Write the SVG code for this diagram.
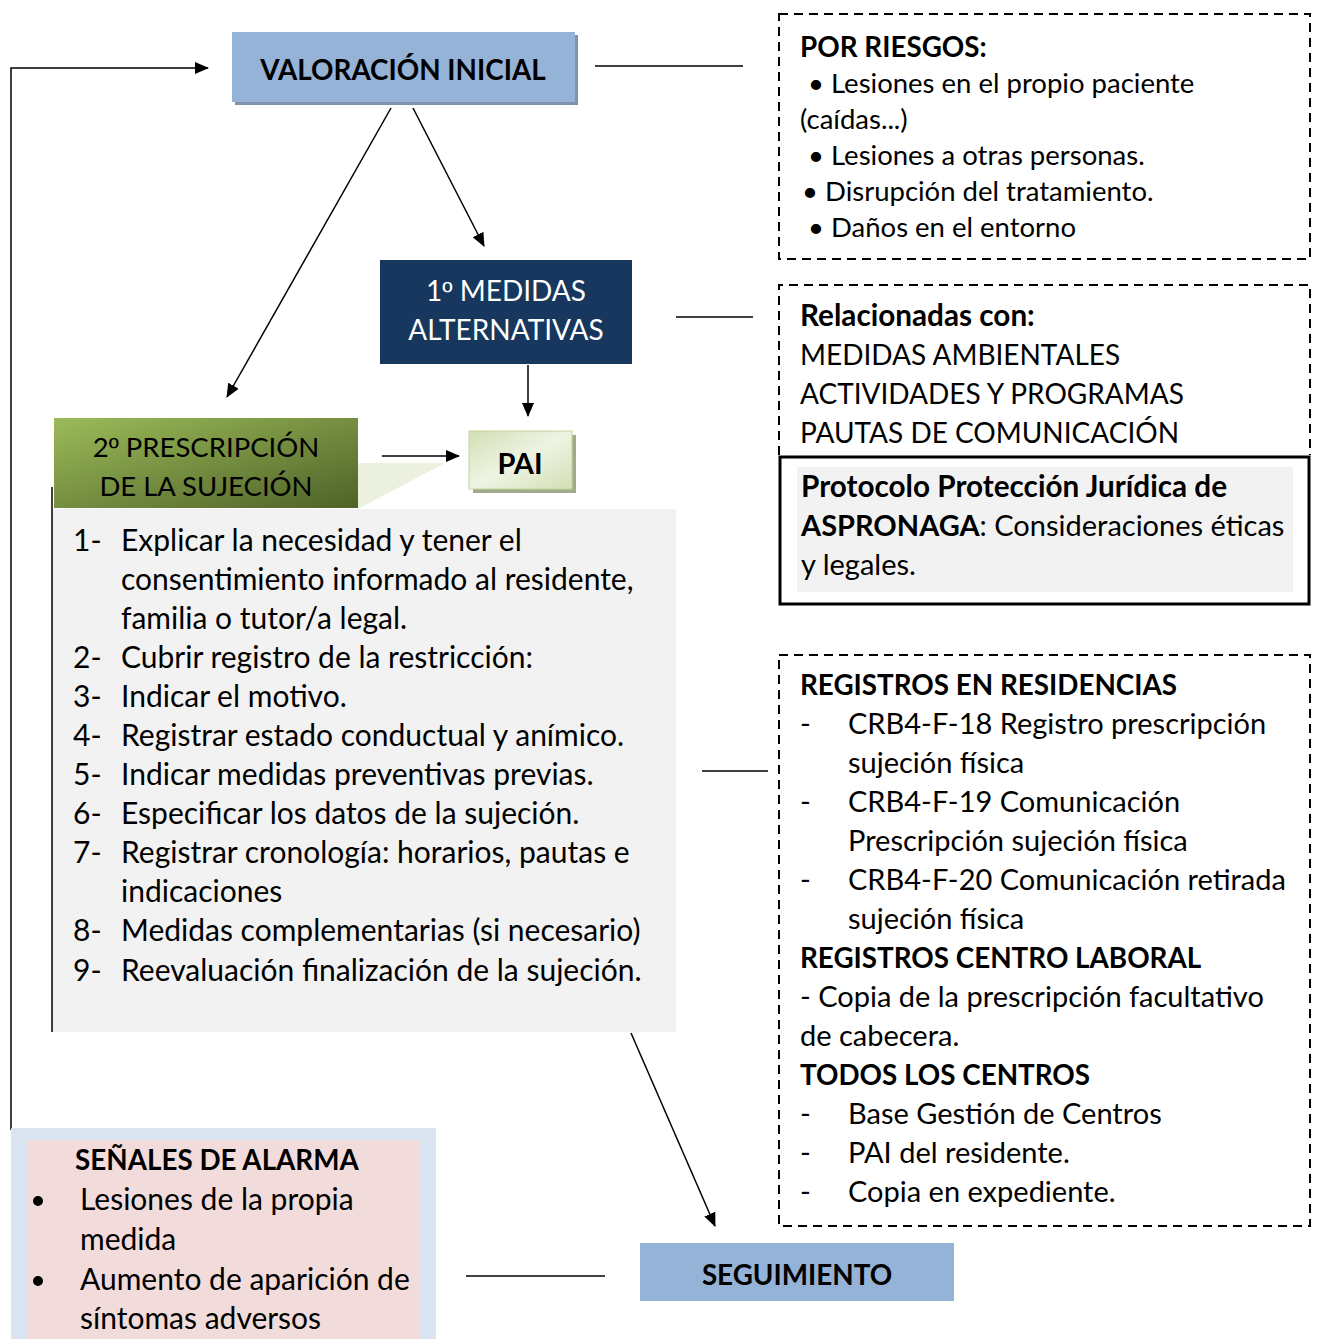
<svg xmlns="http://www.w3.org/2000/svg" width="1318" height="1339" viewBox="0 0 1318 1339">
<defs>
<style>
text{font-family:Lato,"Liberation Sans",sans-serif;fill:#000}
.b{font-weight:bold}
.s27{font-size:27.5px}
.s28{font-size:28px}
.s29{font-size:29px}
.s30{font-size:30px}
.bl{font-size:29.7px;font-weight:bold}
.bc{font-size:27.8px;font-weight:bold}
.o{font-family:"Liberation Sans",sans-serif}
.dash{fill:none;stroke:#000;stroke-width:2;stroke-dasharray:9,6}
.ln{fill:none;stroke:#000;stroke-width:1.5}
.w{fill:#fff}
</style>
<marker id="ah" viewBox="0 0 14 12" refX="13" refY="6" markerWidth="14" markerHeight="12" markerUnits="userSpaceOnUse" orient="auto">
<path d="M0,0 L14,6 L0,12 z" fill="#000"/>
</marker>
<linearGradient id="g2" x1="0" y1="0" x2="1" y2="1">
<stop offset="0" stop-color="#9BBB59"/>
<stop offset="1" stop-color="#4F6228"/>
</linearGradient>
<linearGradient id="gp" x1="0" y1="0" x2="1" y2="1">
<stop offset="0" stop-color="#D2E0B4"/>
<stop offset="0.5" stop-color="#EEF3E3"/>
<stop offset="1" stop-color="#D2E0B4"/>
</linearGradient>
</defs>

<g id="connectors">
<polyline class="ln" points="11,1130 11,68 208,68" marker-end="url(#ah)"/>
<line class="ln" x1="595" y1="66" x2="743" y2="66"/>
<line class="ln" x1="413" y1="108" x2="484" y2="246" marker-end="url(#ah)"/>
<line class="ln" x1="391" y1="108" x2="227" y2="397" marker-end="url(#ah)"/>
<line class="ln" x1="528" y1="365" x2="528" y2="416" marker-end="url(#ah)"/>
<line class="ln" x1="676" y1="317" x2="753" y2="317"/>
<line class="ln" x1="382" y1="456" x2="459" y2="456" marker-end="url(#ah)"/>
<line class="ln" x1="702" y1="771" x2="768" y2="771"/>
<line class="ln" x1="631" y1="1033" x2="715" y2="1226" marker-end="url(#ah)"/>
<line class="ln" x1="466" y1="1276" x2="605" y2="1276"/>
</g>

<g id="valoracion">
<rect x="235" y="35" width="343" height="70" fill="#7F93AE"/>
<rect x="232" y="32" width="343" height="70" fill="#95B3D7"/>
<text class="bc" x="403" y="80" text-anchor="middle">VALORACIÓN INICIAL</text>
</g>

<g id="riesgos">
<rect class="dash" x="779" y="14" width="531" height="245"/>
<text class="bc" x="800" y="57">POR RIESGOS:</text>
<g class="s27">
<text x="808" y="93">• Lesiones en el propio paciente</text>
<text x="800" y="129">(caídas...)</text>
<text x="808" y="165">• Lesiones a otras personas.</text>
<text x="802" y="201">• Disrupción del tratamiento.</text>
<text x="808" y="237">• Daños en el entorno</text>
</g>
</g>

<g id="medidas">
<rect x="380" y="260" width="252" height="104" fill="#17375E"/>
<text class="s28 w" x="506" y="301" text-anchor="middle">1<tspan class="o">º</tspan> MEDIDAS</text>
<text class="s28 w" x="506" y="340" text-anchor="middle">ALTERNATIVAS</text>
</g>

<g id="relacionadas">
<path class="dash" d="M779,455 V285 H1310 V455"/>
<text class="bl" x="800" y="326">Relacionadas con:</text>
<g class="s28">
<text x="800" y="365">MEDIDAS AMBIENTALES</text>
<text x="800" y="404">ACTIVIDADES Y PROGRAMAS</text>
<text x="800" y="443">PAUTAS DE COMUNICACIÓN</text>
</g>
</g>

<g id="protocolo">
<rect x="780" y="457" width="529" height="147" fill="#fff" stroke="#000" stroke-width="3"/>
<rect x="797" y="467" width="496" height="125" fill="#F2F2F2"/>
<text class="bl" x="801" y="497">Protocolo Protección Jurídica de</text>
<text class="s29" x="801" y="536"><tspan class="b">ASPRONAGA</tspan>: Consideraciones éticas</text>
<text class="s29" x="801" y="575">y legales.</text>
</g>

<g id="pai">
<rect x="473" y="435" width="103" height="58" fill="#A2AA8C"/>
<rect x="469" y="431" width="103" height="58" fill="url(#gp)" stroke="#C3D69B" stroke-width="1"/>
<text class="b s29" x="520" y="474" text-anchor="middle">PAI</text>
</g>

<g id="prescripcion">
<rect x="52" y="509" width="624" height="523" fill="#F2F2F2"/>
<line x1="52" y1="487" x2="52" y2="1032" stroke="#000" stroke-width="1.5"/>
<polygon points="358,463 445,463 358,509" fill="#EBF1DE"/>
<rect x="54" y="418" width="304" height="90" fill="url(#g2)"/>
<text class="s27" x="206" y="457" text-anchor="middle">2<tspan class="o">º</tspan> PRESCRIPCIÓN</text>
<text class="s27" x="206" y="496" text-anchor="middle">DE LA SUJECIÓN</text>
<g class="s30">
<text x="73" y="551">1-</text><text x="121" y="551">Explicar la necesidad y tener el</text>
<text x="121" y="590">consentimiento informado al residente,</text>
<text x="121" y="629">familia o tutor/a legal.</text>
<text x="73" y="668">2-</text><text x="121" y="668">Cubrir registro de la restricción:</text>
<text x="73" y="707">3-</text><text x="121" y="707">Indicar el motivo.</text>
<text x="73" y="746">4-</text><text x="121" y="746">Registrar estado conductual y anímico.</text>
<text x="73" y="785">5-</text><text x="121" y="785">Indicar medidas preventivas previas.</text>
<text x="73" y="824">6-</text><text x="121" y="824">Especificar los datos de la sujeción.</text>
<text x="73" y="863">7-</text><text x="121" y="863">Registrar cronología: horarios, pautas e</text>
<text x="121" y="902">indicaciones</text>
<text x="73" y="941">8-</text><text x="121" y="941">Medidas complementarias (si necesario)</text>
<text x="73" y="981">9-</text><text x="121" y="981">Reevaluación finalización de la sujeción.</text>
</g>
</g>

<g id="registros">
<rect class="dash" x="779" y="655" width="531" height="571"/>
<text class="bc" x="800" y="695">REGISTROS EN RESIDENCIAS</text>
<text class="bc" x="800" y="968">REGISTROS CENTRO LABORAL</text>
<text class="bc" x="800" y="1085">TODOS LOS CENTROS</text>
<g class="s29">
<text x="800" y="734">-</text><text x="848" y="734">CRB4-F-18 Registro prescripción</text>
<text x="848" y="773">sujeción física</text>
<text x="800" y="812">-</text><text x="848" y="812">CRB4-F-19 Comunicación</text>
<text x="848" y="851">Prescripción sujeción física</text>
<text x="800" y="890">-</text><text x="848" y="890">CRB4-F-20 Comunicación retirada</text>
<text x="848" y="929">sujeción física</text>
<text x="800" y="1007">- Copia de la prescripción facultativo</text>
<text x="800" y="1046">de cabecera.</text>
<text x="800" y="1124">-</text><text x="848" y="1124">Base Gestión de Centros</text>
<text x="800" y="1163">-</text><text x="848" y="1163">PAI del residente.</text>
<text x="800" y="1202">-</text><text x="848" y="1202">Copia en expediente.</text>
</g>
</g>

<g id="seguimiento">
<rect x="640" y="1243" width="314" height="58" fill="#95B3D7"/>
<text class="bc" x="797" y="1285" text-anchor="middle">SEGUIMIENTO</text>
</g>

<g id="alarma">
<rect x="11" y="1128" width="425" height="211" fill="#DBE5F1"/>
<rect x="27" y="1140" width="393" height="199" fill="#F2DCDB"/>
<text class="bc" x="75" y="1170">SEÑALES DE ALARMA</text>
<circle cx="38" cy="1201" r="5" fill="#000"/>
<circle cx="38" cy="1281" r="5" fill="#000"/>
<g class="s30">
<text x="80" y="1210">Lesiones de la propia</text>
<text x="80" y="1250">medida</text>
<text x="80" y="1290">Aumento de aparición de</text>
<text x="80" y="1329">síntomas adversos</text>
</g>
</g>
</svg>
